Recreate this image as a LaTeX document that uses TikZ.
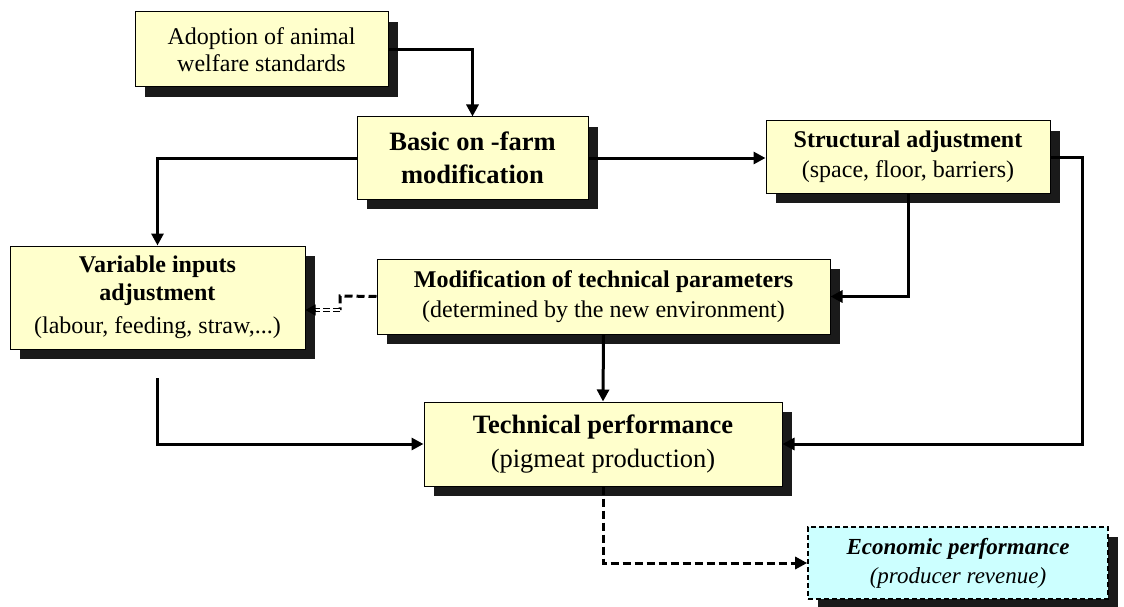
\documentclass[tikz,border=0pt]{standalone}
\usepackage{fontspec}
\setmainfont{Liberation Serif}
\usetikzlibrary{arrows.meta,shadows,calc}
\definecolor{boxyellow}{HTML}{FFFFCC}
\definecolor{boxcyan}{HTML}{CCFFFF}
\definecolor{shade}{HTML}{1A1A1A}
\begin{document}
\begin{tikzpicture}[x=1pt,y=-1pt,
  box/.style={draw=black, line width=1pt, fill=boxyellow, inner sep=0pt, align=center,
    drop shadow={shadow xshift=10pt, shadow yshift=-10pt, fill=shade, opacity=1}},
  link/.style={line width=3pt, -{Triangle[length=12pt,width=12pt]}},
  dlink/.style={link, dash pattern=on 8pt off 4pt},
  txt/.style={font=\fontsize{24}{#1}\selectfont},
  big/.style={font=\fontsize{26.5}{#1}\selectfont}
]
\useasboundingbox (0,0) rectangle (1124,607);

% boxes
\node[box, txt=27, minimum width=253pt, minimum height=75pt] (adopt) at (261.5,49.5)
  {Adoption of animal\\welfare standards};
\node[box, big=33, minimum width=231pt, minimum height=82pt] (basic) at (472.5,158)
  {\bfseries Basic on -farm\\\bfseries modification};
\node[box, txt=30, minimum width=284pt, minimum height=72pt] (struct) at (908,157)
  {\textbf{Structural adjustment}\\(space, floor, barriers)};
\node[box, txt=28, minimum width=295pt, minimum height=103pt] (var) at (157.5,297.5)
  {\textbf{Variable inputs}\\\textbf{adjustment}\\[5pt](labour, feeding, straw,...)};
\node[box, txt=30, minimum width=453pt, minimum height=75pt] (mod) at (603.5,296.5)
  {\textbf{Modification of technical parameters}\\(determined by the new environment)};
\node[box, big=34, minimum width=358pt, minimum height=84pt] (tech) at (603,444)
  {\textbf{Technical performance}\\(pigmeat production)};
\node[box, fill=boxcyan, draw=black, line width=1.6pt, dash pattern=on 5pt off 3pt,
  font=\fontsize{23}{29}\selectfont\itshape,
  minimum width=300pt, minimum height=72pt] (econ) at (958,563)
  {\textbf{Economic performance}\\(producer revenue)};

% connectors
\coordinate (sr) at (1082,157);
\coordinate (vs) at (157.5,378);
\coordinate (mv) at (340,296);
\coordinate (mvb) at (340,310);

\draw[link] (adopt.east) -| (basic.north);
\draw[link] (basic.east) -- (basic.east -| struct.west);
\draw[link] (basic.west) -| (var.north);
\draw[link] (struct.south) |- (mod.east);
\draw[link] (struct.east) -- (sr) |- (tech.east);
\draw[link] (mod.south) -- (tech.north);
\draw[link] (vs) |- (tech.west);
\draw[line width=3pt, dash pattern=on 8pt off 4pt] (mod.west) -- (mv) -- (mvb);
\draw[line width=1.4pt, double distance=2pt, dash pattern=on 7pt off 3pt]
  (mvb) -- ([xshift=9pt,yshift=-12.5pt]var.east);
\draw[line width=1pt, -{Triangle[length=10pt,width=11pt]}]
  ([xshift=10pt,yshift=-12.5pt]var.east) -- ([yshift=-12.5pt]var.east);
\draw[dlink] (tech.south) |- (econ.west);
\end{tikzpicture}
\end{document}
